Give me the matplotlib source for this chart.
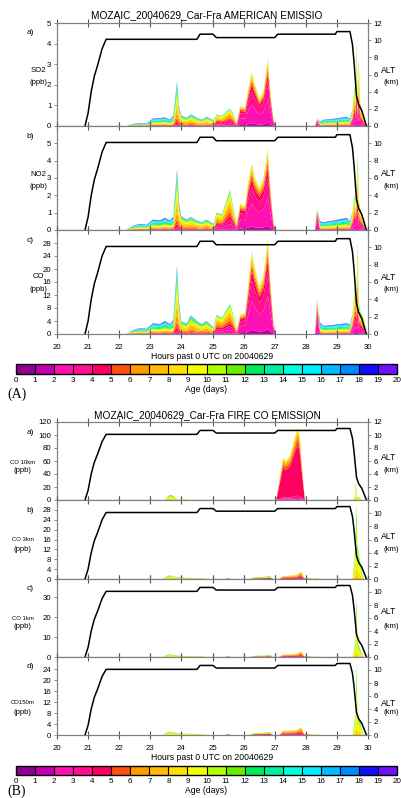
import numpy as np
import matplotlib
matplotlib.use("Agg")
import matplotlib.pyplot as plt
from matplotlib.colors import ListedColormap, BoundaryNorm
from matplotlib.cm import ScalarMappable

plt.rcParams["font.family"] = ["Liberation Sans", "DejaVu Sans"]

# age classes 0-1 ... 19-20 days
AGE_COLORS = ["#900090", "#c000b0", "#ff10b0", "#ff1090", "#ff0060",
              "#ff5010", "#ff9a00", "#ffbb00", "#ffe000", "#eeff00",
              "#b0ff00", "#66ee00", "#00ee55", "#00eea0", "#00ffdd",
              "#00eeff", "#00bbff", "#0088ff", "#1010ff", "#7010ff"]

# age mix of the tracer (fraction per age class)
OLD_AIR = [0, 0, .02, .03, .04, .05, .06, .07, .07, .06, .06, .07, .08, .10, .08, .07, .05, .04, .03, .02]
MID_AIR = [0, 0, .02, .03, .05, .08, .12, .14, .14, .10, .08, .06, .05, .04, .03, .02, .01, .01, .01, .01]
MIX_AIR = [0, .02, .12, .12, .10, .10, .12, .12, .10, .08, .05, .03, .02, .01, .01, 0, 0, 0, 0, 0]
YOUNG_AIR = [0, .05, .35, .25, .12, .07, .05, .04, .03, .02, .01, .01, 0, 0, 0, 0, 0, 0, 0, 0]
FIRE_AIR = [0, .01, .02, .03, .70, .08, .07, .04, .03, .02, 0, 0, 0, 0, 0, 0, 0, 0, 0, 0]
GREEN_AIR = [0, 0, 0, 0, 0, 0, 0, .05, .20, .30, .25, .15, .05, 0, 0, 0, 0, 0, 0, 0]
BLUE_AIR = [0, 0, 0, 0, 0, 0, 0, 0, 0, 0, 0, 0, 0, 0, 0, .30, .40, .30, 0, 0]
LOW_AIR = [0, 0, 0, 0, .35, .10, .05, 0, 0, .10, .20, .20, 0, 0, 0, 0, 0, 0, 0, 0]
DILUTE_AIR = [0, 0, 0, .05, .30, .20, .20, .15, .10, 0, 0, 0, 0, 0, 0, 0, 0, 0, 0, 0]
MIXES = {"old": OLD_AIR, "mid": MID_AIR, "mix": MIX_AIR, "young": YOUNG_AIR, "fire": FIRE_AIR,
         "green": GREEN_AIR, "blue": BLUE_AIR, "low": LOW_AIR, "dil": DILUTE_AIR}

# flight altitude (km)
ALT_T = [20.90, 21.00, 21.10, 21.20, 21.30, 21.45, 21.58, 24.50, 24.60, 25.02, 25.12, 27.00, 27.10,
         28.95, 29.00, 29.42, 29.50, 29.55, 29.63, 29.70, 29.80, 29.95]
ALT_KM = [0.0, 1.5, 4.0, 5.8, 7.0, 9.0, 10.1, 10.1, 10.7, 10.7, 10.3, 10.3, 10.7,
          10.7, 11.0, 11.0, 9.5, 7.5, 3.5, 2.5, 1.8, 0.0]

# (A) American emission tracers
T_A = [22.23, 22.45, 22.66, 22.88, 23.09, 23.30, 23.47, 23.63, 23.74, 23.86,
       23.92, 24.00, 24.17, 24.30, 24.50, 24.65, 24.81, 25.03, 25.13, 25.30,
       25.56, 25.67, 25.78, 25.89, 26.05, 26.15, 26.26, 26.37, 26.51, 26.64,
       26.78, 26.87, 26.96, 27.05, 28.30, 28.36, 28.46, 28.57, 28.90, 29.32,
       29.41, 29.50, 29.56, 29.60, 29.63, 29.67, 29.70, 29.75, 29.82, 29.88,
       29.95]
SO2 = [0.00, 0.10, 0.15, 0.12, 0.37, 0.38, 0.42, 0.30, 0.50, 2.15,
       1.00, 0.50, 0.40, 0.56, 0.40, 0.30, 0.45, 0.28, 0.55, 0.50,
       0.85, 0.60, 0.15, 0.95, 0.90, 1.80, 2.60, 2.00, 1.34, 1.70,
       3.27, 1.50, 0.30, 0.00, 0.00, 0.35, 0.22, 0.30, 0.35, 0.45,
       0.35, 0.80, 1.90, 1.40, 4.00, 1.30, 3.20, 1.10, 0.70, 0.40,
       0.00]
NO2 = [0.00, 0.25, 0.35, 0.30, 0.60, 0.55, 0.70, 0.55, 0.75, 3.50,
       1.60, 0.80, 0.60, 0.75, 0.55, 0.45, 0.60, 0.35, 1.00, 0.90,
       2.30, 1.30, 0.40, 1.50, 1.40, 2.80, 3.80, 3.00, 2.45, 3.00,
       4.65, 2.20, 0.40, 0.00, 0.00, 1.20, 0.50, 0.45, 0.55, 0.70,
       0.50, 1.00, 2.00, 1.60, 2.40, 4.30, 1.80, 1.20, 0.80, 0.50,
       0.00]
CO_A = [0.0, 1.2, 1.8, 1.6, 3.3, 3.0, 4.0, 3.0, 4.3, 20.9,
        9.8, 3.8, 3.2, 5.7, 4.0, 3.0, 4.0, 2.0, 5.9, 5.0,
        9.2, 6.0, 1.4, 5.9, 6.4, 15.0, 25.3, 20.0, 14.7, 18.0,
        29.5, 15.0, 3.0, 0.0, 0.0, 10.6, 3.5, 2.5, 2.8, 3.3,
        2.8, 6.0, 12.0, 16.5, 12.0, 28.7, 10.0, 7.0, 5.5, 4.0,
        0.0]
AGE_A = ["old"] * 9 + ["mid"] * 9 + ["mix"] * 5 + ["young"] * 13 + ["old"] * 5 + ["mix"] * 10

# (B) fire CO tracers, by injection height
T_B10 = [23.45, 23.55, 23.65, 23.75, 23.85, 24.05, 24.15, 24.25, 27.05, 27.15, 27.27, 27.35, 27.49,
         27.60, 27.74, 27.80, 27.90, 27.97, 29.52, 29.58, 29.61, 29.64, 29.70, 29.76, 29.82]
CO_10KM = [0, 5, 8, 6, 1, 0.5, 1, 0, 0, 30, 66, 60, 68, 88, 112, 100, 40, 0, 0, 5, 28, 4, 5, 2, 0]
AGE_B10 = ["green"] * 8 + ["fire"] * 10 + ["green"] * 7

T_B = [23.40, 23.50, 23.62, 23.75, 23.90, 24.10, 24.40, 24.70, 24.80, 25.40,
       25.50, 25.60, 26.20, 26.35, 26.60, 26.85, 26.95, 27.15, 27.25, 27.50,
       27.70, 27.85, 27.95, 28.25, 28.35, 28.45, 29.50, 29.56, 29.60, 29.63,
       29.66, 29.72, 29.80, 29.87]
CO_3KM = [0, 0.8, 1.5, 1.0, 0.7, 0.5, 0.4, 0.3, 0, 0,
          0.4, 0, 0, 0.7, 0.8, 1.2, 0, 0, 1.2, 1.4,
          1.6, 3.0, 0.5, 0, 0.4, 0, 0, 6.0, 17.0, 30.0,
          14.0, 9.0, 3.0, 0]
CO_1KM = [0, 0.8, 1.3, 0.9, 0.6, 0.5, 0.4, 0.3, 0, 0,
          0.4, 0, 0, 0.6, 0.7, 1.0, 0, 0, 1.2, 1.4,
          1.6, 2.8, 0.5, 0, 0.3, 0, 0, 4.0, 9.0, 30.0,
          8.0, 5.0, 2.0, 0]
CO_150M = [0, 0.8, 1.2, 0.9, 0.6, 0.5, 0.4, 0.3, 0, 0,
           0.4, 0, 0, 0.7, 0.8, 1.1, 0, 0, 1.5, 1.6,
           1.8, 2.8, 0.5, 0, 0.3, 0, 0, 4.0, 8.0, 26.0,
           8.0, 6.0, 2.0, 0]
AGE_B = ["green"] * 9 + ["blue"] * 4 + ["low"] * 4 + ["dil"] * 6 + ["green"] * 11

W, H = 401, 798
GREY = "#808080"
fig = plt.figure(figsize=(W / 100, H / 100), dpi=100)


def box(l, t, r, b):
    return [l / W, 1 - b / H, (r - l) / W, (b - t) / H]


def ftext(x, y, s, **kw):
    kw.setdefault("ha", "center"); kw.setdefault("va", "center")
    fig.text(x / W, 1 - y / H, s, **kw)


def panel(top, bot, t, conc, ages, ymax, yticks, letter, name, ylab, alt_top=False, xlab=False,
          name_x=40, name_fs=5.6, lab_dy=(-4, 8), alt_dy=(-4, 8)):
    ax = fig.add_axes(box(57, top, 368, bot))
    layers = [[v * MIXES[a][k] for v, a in zip(conc, ages)] for k in range(20)]
    ax.stackplot(t, layers, colors=AGE_COLORS, linewidth=0)
    ax.set_xlim(20, 30); ax.set_ylim(0, ymax)
    ax.set_xticks(range(20, 31)); ax.set_yticks(yticks)
    ax.tick_params(axis="x", direction="inout", length=6, width=0.8, top=True, color="#555555",
                   labelbottom=xlab, labelsize=5.6, pad=4)
    ax.tick_params(axis="y", direction="out", length=2.5, width=0.6, color=GREY, labelsize=5.6, pad=1.5)
    for sp in ax.spines.values():
        sp.set_color(GREY); sp.set_linewidth(0.8)
    ax2 = ax.twinx()
    ax2.plot(ALT_T, ALT_KM, color="k", lw=1.1)
    ax2.set_ylim(0, 12)
    ax2.set_yticks(range(0, 13, 2) if alt_top else range(0, 11, 2))
    ax2.tick_params(axis="y", direction="out", length=2.5, width=0.6, color=GREY, labelsize=5.6, pad=1.5)
    for sp in ax2.spines.values():
        sp.set_color(GREY); sp.set_linewidth(0.8)
    mid = (top + bot) / 2
    ftext(30, top + 10, letter, fontsize=6)
    ftext(name_x, mid + lab_dy[0], name, fontsize=name_fs)
    ftext(name_x, mid + lab_dy[1], ylab, fontsize=5.6)
    ftext(389, mid + alt_dy[0], "ALT", fontsize=6.2)
    ftext(391, mid + alt_dy[1], "(km)", fontsize=5.6)
    if xlab:
        ax.set_xlabel("Hours past 0 UTC on 20040629", fontsize=6.2, labelpad=1)
    return ax


def agebar(top, bot):
    cax = fig.add_axes(box(16, top, 397, bot))
    sm = ScalarMappable(norm=BoundaryNorm(range(21), 20), cmap=ListedColormap(AGE_COLORS))
    cb = fig.colorbar(sm, cax=cax, orientation="horizontal", ticks=range(21), drawedges=True)
    cb.outline.set_linewidth(1.0); cb.outline.set_edgecolor("k")
    cb.dividers.set_color("k"); cb.dividers.set_linewidth(0.8)
    cax.tick_params(length=0, labelsize=5.8, pad=2)
    cax.set_xlabel("Age (days)", fontsize=6.2, labelpad=1)


# (A)
ftext(207, 15, "MOZAIC_20040629_Car-Fra AMERICAN EMISSIO", fontsize=7.3)
panel(23, 126, T_A, SO2, AGE_A, 5, range(0, 6), "a)", "SO2", "(ppb)", alt_top=True,
      name_x=38, lab_dy=(-4, 8), alt_dy=(-4, 8))
panel(126, 230, T_A, NO2, AGE_A, 6, range(0, 6), "b)", "NO2", "(ppb)",
      name_x=38, lab_dy=(-4, 9), alt_dy=(-4, 9))
panel(230, 334, T_A, CO_A, AGE_A, 32, range(0, 29, 4), "c)", "CO", "(ppb)", xlab=True,
      name_x=38, lab_dy=(-5, 8), alt_dy=(-5, 8))
agebar(364, 374)
ftext(7, 394, "(A)", fontsize=10, ha="left", family="Liberation Serif")

# (B)
ftext(207, 415, "MOZAIC_20040629_Car-Fra FIRE CO EMISSION", fontsize=7.3)
panel(422, 500, T_B10, CO_10KM, AGE_B10, 120, range(0, 121, 20), "a)", "CO 10km", "(ppb)",
      alt_top=True, name_x=23, name_fs=4.3, lab_dy=(1, 9), alt_dy=(-4, 9))
panel(500, 579, T_B, CO_3KM, AGE_B, 32, range(0, 29, 4), "b)", "CO 3km", "(ppb)",
      name_x=23, name_fs=4.3, lab_dy=(0, 10), alt_dy=(-3, 10))
panel(579, 657, T_B, CO_1KM, AGE_B, 39, range(0, 31, 10), "c)", "CO 1km", "(ppb)",
      name_x=23, name_fs=4.3, lab_dy=(0, 9), alt_dy=(-6, 9))
panel(657, 735, T_B, CO_150M, AGE_B, 28.5, range(0, 25, 4), "d)", "CO150m", "(ppb)",
      xlab=True, name_x=23, name_fs=4.3, lab_dy=(7, 17), alt_dy=(7, 17))
agebar(766, 775)
ftext(7, 791, "(B)", fontsize=10, ha="left", family="Liberation Serif")

fig.savefig("out.png", dpi=100)
